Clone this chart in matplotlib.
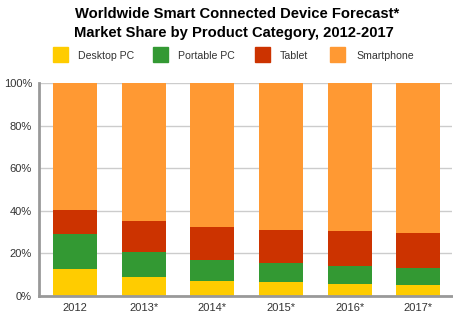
import matplotlib
matplotlib.use("Agg")
import matplotlib.pyplot as plt
from matplotlib.patches import Rectangle

years = ["2012", "2013*", "2014*", "2015*", "2016*", "2017*"]
series = ["Desktop PC", "Portable PC", "Tablet", "Smartphone"]
colors = ["#FFCC00", "#339933", "#CC3300", "#FF9933"]

desktop = [12.5, 8.8, 7.2, 6.6, 5.6, 5.2]
portable = [16.4, 11.7, 9.7, 8.7, 8.6, 8.1]
tablet = [11.7, 14.5, 15.3, 15.8, 16.1, 16.2]
smartphone = [59.4, 65.0, 67.8, 68.9, 69.7, 70.5]
values = [desktop, portable, tablet, smartphone]

W, H = 453, 322
fig = plt.figure(figsize=(W / 100, H / 100), dpi=100)
ax = fig.add_axes([39 / W, (H - 296) / H, (452 - 39) / W, (296 - 83) / H])

x = list(range(len(years)))
bottom = [0.0] * len(years)
for vals, col in zip(values, colors):
    ax.bar(x, vals, width=0.64, bottom=bottom, color=col, zorder=3)
    bottom = [b + v for b, v in zip(bottom, vals)]

ax.set_xlim(-0.524, 5.49)
ax.set_ylim(0, 100)
ax.set_yticks([0, 20, 40, 60, 80, 100])
ax.set_yticklabels([f"{t}%" for t in [0, 20, 40, 60, 80, 100]])
ax.set_xticks(x)
ax.set_xticklabels(years)
ax.tick_params(axis="both", length=0, labelsize=8, labelcolor="#333333",
               pad=5)
for lab in ax.get_xticklabels() + ax.get_yticklabels():
    lab.set_fontfamily("Liberation Sans")
ax.yaxis.grid(True, color="#CCCCCC", linewidth=1, zorder=0)
for s in ["top", "right"]:
    ax.spines[s].set_visible(False)
for s in ["left", "bottom"]:
    ax.spines[s].set_color("#999999")
    ax.spines[s].set_linewidth(2)
    ax.spines[s].set_zorder(4)

fig.text(237 / W, 1 - 18.3 / H, "Worldwide Smart Connected Device Forecast*",
         ha="center", va="baseline", fontsize=10.6, fontweight="bold",
         family="Liberation Sans", color="#000000")
fig.text(234 / W, 1 - 36.7 / H, "Market Share by Product Category, 2012-2017",
         ha="center", va="baseline", fontsize=10.6, fontweight="bold",
         family="Liberation Sans", color="#000000")

# legend row
sq_x = [53, 153, 255, 330]
txt_x = [78, 178, 280, 356]
for name, col, sx, tx in zip(series, colors, sq_x, txt_x):
    fig.patches.append(Rectangle((sx / W, (H - 62) / H), 15 / W, 15 / H,
                                 transform=fig.transFigure, color=col))
    fig.text(tx / W, 1 - 59.3 / H, name, ha="left", va="baseline",
             fontsize=7.6, family="Liberation Sans", color="#333333")

fig.savefig("out.png", dpi=100)
